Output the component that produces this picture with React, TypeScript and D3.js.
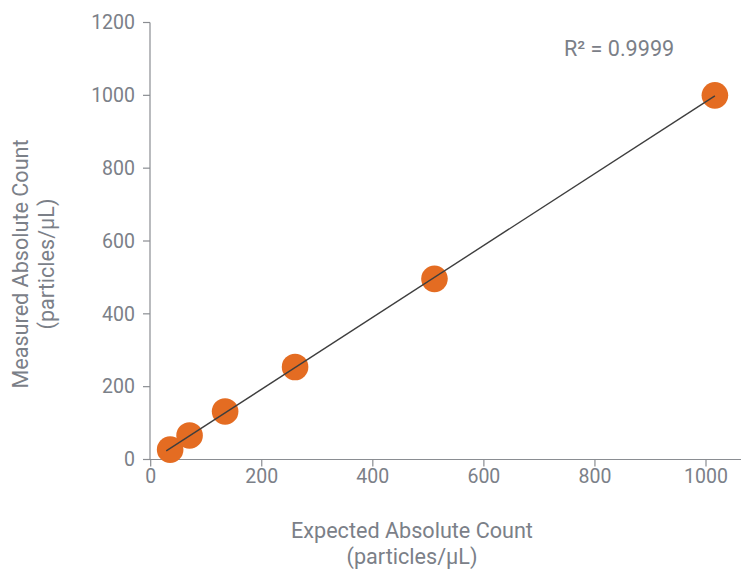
import React from "react";
import * as d3 from "d3";

const expected = [35, 70, 134, 260, 511, 1016];
const measured = [27, 66, 132, 254, 496, 1000];
const xTicks = [0, 200, 400, 600, 800, 1000];
const yTicks = [0, 200, 400, 600, 800, 1000, 1200];
const rSquaredLabel = "R² = 0.9999";
const xTitle = ["Expected Absolute Count", "(particles/μL)"];
const yTitle = ["Measured Absolute Count", "(particles/μL)"];

const W = 742;
const H = 570;
const TEXT = "#7b8088";
const AXIS = "#8a8d92";
const FONT = "Roboto, 'Noto Sans', sans-serif";

export default function App() {
  const x = d3.scaleLinear().domain([0, 1000]).range([150.7, 706]);
  const y = d3.scaleLinear().domain([0, 1200]).range([459.5, 22.5]);

  const n = expected.length;
  const mx = d3.mean(expected)!;
  const my = d3.mean(measured)!;
  let sxy = 0, sxx = 0;
  for (let i = 0; i < n; i++) {
    sxy += (expected[i] - mx) * (measured[i] - my);
    sxx += (expected[i] - mx) ** 2;
  }
  const slope = sxy / sxx;
  const intercept = my - slope * mx;
  const x0 = d3.min(expected)! - 7;
  const x1 = d3.max(expected)!;
  const line = d3.line<number>().x((d) => x(d)).y((d) => y(slope * d + intercept));

  return (
    <svg width={W} height={H} style={{ position: "absolute", left: 0, top: 0 }} fontFamily={FONT}>
      <rect width={W} height={H} fill="#fff" />
      <line x1={150} x2={150} y1={y(1200)} y2={y(0)} stroke={AXIS} strokeWidth={1.2} />
      {yTicks.map((t) => (
        <g key={t}>
          <line x1={143} x2={150} y1={y(t)} y2={y(t)} stroke={AXIS} strokeWidth={1.2} />
          <text x={135} y={y(t)} dy="0.35em" textAnchor="end" fontSize={19.5} fill={TEXT}>
            {t}
          </text>
        </g>
      ))}
      <line x1={149} x2={741} y1={y(0)} y2={y(0)} stroke={AXIS} strokeWidth={1.2} />
      {xTicks.map((t) => (
        <g key={t}>
          <line x1={x(t)} x2={x(t)} y1={y(0)} y2={y(0) + 7} stroke={AXIS} strokeWidth={1.2} />
          <text x={x(t)} y={483} textAnchor="middle" fontSize={19.5} fill={TEXT}>
            {t}
          </text>
        </g>
      ))}
      {expected.map((e, i) => (
        <circle key={i} cx={x(e)} cy={y(measured[i])} r={13.3} fill="#E46C22" />
      ))}
      <path d={line([x0, x1]) || ""} stroke="#3e3e3e" strokeWidth={1.4} fill="none" />
      <text x={564} y={56} fontSize={21.6} fill={TEXT}>
        {rSquaredLabel}
      </text>
      <text x={412} y={538} textAnchor="middle" fontSize={21.6} fill={TEXT}>
        {xTitle[0]}
      </text>
      <text x={412} y={564} textAnchor="middle" fontSize={21.6} fill={TEXT}>
        {xTitle[1]}
      </text>
      <g transform="translate(0,264) rotate(-90)">
        <text x={0} y={28} textAnchor="middle" fontSize={21.6} fill={TEXT}>
          {yTitle[0]}
        </text>
        <text x={0} y={54} textAnchor="middle" fontSize={21.6} fill={TEXT}>
          {yTitle[1]}
        </text>
      </g>
    </svg>
  );
}
